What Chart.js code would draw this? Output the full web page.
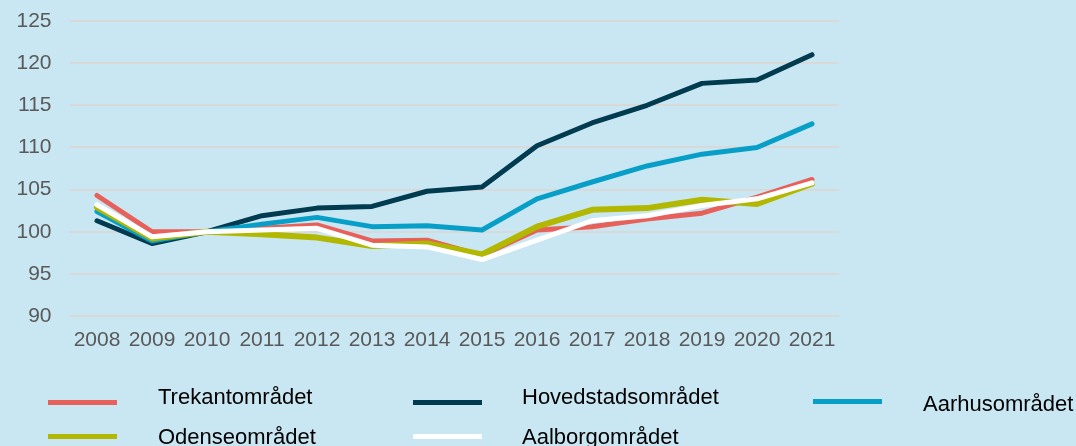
<!DOCTYPE html>
<html>
<head>
<meta charset="utf-8">
<script src="https://cdn.jsdelivr.net/npm/chart.js@4"></script>
<style>
html,body{margin:0;padding:0;background:#c9e7f2;}
#wrap{position:relative;width:1076px;height:446px;overflow:hidden;background:#c9e7f2;}
canvas{position:absolute;left:0;top:0;}
.lg-line{position:absolute;height:5px;width:69px;}
.lg-text{position:absolute;font-family:"Liberation Sans",Arial,sans-serif;font-size:22px;color:#000;line-height:26px;white-space:nowrap;}
</style>
</head>
<body>
<div id="wrap"><canvas id="c" width="1076" height="446"></canvas></div>
<script>
const years = ["2008","2009","2010","2011","2012","2013","2014","2015","2016","2017","2018","2019","2020","2021"];
const seriesNames = ["Trekantområdet","Hovedstadsområdet","Aarhusområdet","Odenseområdet","Aalborgområdet"];
const trekant    = [104.3,100.0,100.0,100.4,100.8,98.9,99.0,97.2,100.2,100.6,101.5,102.2,104.1,106.2];
const hovedstad  = [101.3,98.6,100.0,101.9,102.8,103.0,104.8,105.3,110.2,112.9,115.0,117.6,118.0,121.0];
const aarhus     = [102.4,98.9,100.0,100.9,101.7,100.6,100.7,100.2,103.9,105.9,107.8,109.2,110.0,112.8];
const odense     = [102.9,99.2,100.0,99.7,99.3,98.3,98.6,97.3,100.6,102.6,102.8,103.8,103.3,105.7];
const aalborg    = [103.2,99.4,100.0,100.2,100.4,98.4,98.2,96.7,99.0,101.3,101.9,103.1,103.9,105.8];
const yTicks = [90,95,100,105,110,115,120,125];

const colors = ["#e8605a","#003b4f","#079fc7","#b2b800","#ffffff"];
const widths = [5,5,5,6,5];
const seriesData = [trekant,hovedstad,aarhus,odense,aalborg];

const datasets = seriesNames.map((n,i)=>({
  label:n,
  data:seriesData[i],
  borderColor:colors[i],
  backgroundColor:colors[i],
  borderWidth:widths[i],
  pointRadius:0,
  tension:0,
  borderCapStyle:'round',
  borderJoinStyle:'round',
  fill:false,
  order:seriesNames.length-1-i
}));

new Chart(document.getElementById('c'),{
  type:'line',
  data:{labels:years,datasets},
  options:{
    responsive:false,
    animation:false,
    layout:{padding:{left:0,right:236.5,top:21,bottom:100}},
    plugins:{legend:{display:false},tooltip:{enabled:false}},
    scales:{
      x:{
        offset:true,
        grid:{display:false,drawTicks:false},
        border:{display:false},
        ticks:{color:"#595959",font:{family:"Liberation Sans, Arial, sans-serif",size:21},padding:12,maxRotation:0,autoSkip:false},
        afterFit(s){s.height=30;s.paddingLeft=0;s.paddingRight=0;}
      },
      y:{
        min:90,max:125,
        afterBuildTicks(s){s.ticks=yTicks.map(v=>({value:v}));},
        grid:{color:"#d9d9d9",lineWidth:2,drawTicks:false},
        border:{display:false},
        ticks:{color:"#595959",font:{family:"Liberation Sans, Arial, sans-serif",size:21},padding:18},
        afterFit(s){s.width=69.5;s.paddingTop=0;s.paddingBottom=0;}
      }
    }
  }
});

// HTML legend built from series names/colours
const legendPos = [
  {lx:48,ly:400,tx:158,ty:384},
  {lx:413,ly:400,tx:522,ty:384},
  {lx:813,ly:399,tx:923,ty:391},
  {lx:48,ly:434,tx:158,ty:424},
  {lx:413,ly:434,tx:522,ty:424}
];
const wrap=document.getElementById('wrap');
seriesNames.forEach((n,i)=>{
  const p=legendPos[i];
  const l=document.createElement('div');
  l.className='lg-line';l.style.left=p.lx+'px';l.style.top=p.ly+'px';l.style.background=colors[i];
  const t=document.createElement('div');
  t.className='lg-text';t.style.left=p.tx+'px';t.style.top=p.ty+'px';t.textContent=n;
  wrap.appendChild(l);wrap.appendChild(t);
});
</script>
</body>
</html>
